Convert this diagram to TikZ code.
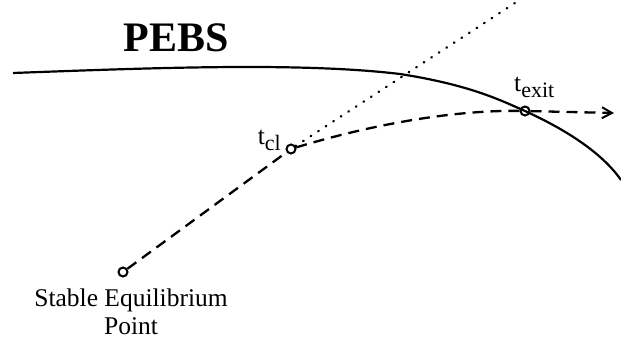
\documentclass[tikz,border=0pt]{standalone}
\usepackage{fontspec}
\setmainfont{Liberation Serif}
\usetikzlibrary{arrows.meta}
\tikzset{
  pebsline/.style={line width=2.2pt},
  traj/.style={line width=2.3pt, dash pattern=on 11pt off 7pt},
  dotline/.style={line width=2.4pt, line cap=round, dash pattern=on 0.6pt off 8.4pt},
  ptcircle/.style={circle, draw, line width=2pt, minimum size=9pt, inner sep=0pt},
  lbl/.style={font=\fontsize{25.5}{28}\selectfont, inner sep=0pt},
}
\newcommand{\subtxt}[1]{\raisebox{-6pt}{\fontsize{22}{22}\selectfont #1}}
\begin{document}
\begin{tikzpicture}[x=1pt,y=-1pt]
\useasboundingbox (0,0) rectangle (621,339);
% PEBS text
\node[font=\fontsize{42}{42}\selectfont\bfseries, inner sep=0pt] (pebs) at (176,38) {PEBS};
% points
\node[ptcircle] (sep) at (123,272) {};
\node[ptcircle] (tcl) at (291,149) {};
\node[ptcircle] (texit) at (525,111) {};
\coordinate (arrowend) at (614,113);
\coordinate (dotend) at (515,3);
\coordinate (pebsL) at (13,73);
\coordinate (pebsR) at (621,180);
% PEBS boundary
\draw[pebsline] (pebsL) .. controls (150,68) and (300,62) .. (400,74)
  .. controls (470,85) and (500,100) .. (texit.center)
  .. controls (560,127) and (600,150) .. (pebsR);
% dotted line
\draw[dotline] (tcl) -- (dotend);
% trajectory
\draw[traj] (sep) -- (tcl);
\draw[traj] (tcl) .. controls (380,122) and (460,110) .. (texit);
\draw[traj, -{Straight Barb[length=10pt,width=11pt,line width=2pt]}] (texit) -- (arrowend);
% labels
\node[lbl, anchor=base east] (lcl) at (281,145) {t\subtxt{cl}};
\node[lbl, anchor=base west] (lex) at (514,92) {t\subtxt{exit}};
\node[lbl, align=center, anchor=north] (lsep) at (131,289) {Stable Equilibrium\\Point};
\end{tikzpicture}
\end{document}
